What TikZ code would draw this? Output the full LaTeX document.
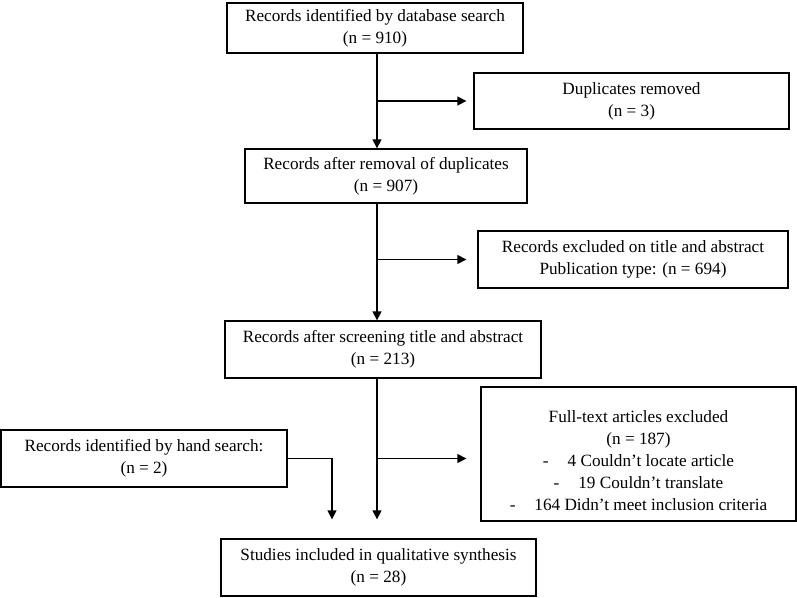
\documentclass[tikz,border=0pt]{standalone}
\usepackage{fontspec}
\setmainfont{Liberation Serif}
\usetikzlibrary{arrows.meta}
\begin{document}
\begin{tikzpicture}[x=1pt,y=-1pt,
  box/.style={draw, line width=1.3pt, align=center, inner sep=0pt,
    font=\fontsize{17.2}{22}\selectfont},
  conn/.style={line width=1.3pt, -{Triangle[length=9pt,width=9pt]}}]
\useasboundingbox (0,0) rectangle (797,597);
\coordinate (spine) at (377,0);
\coordinate (hx) at (332,0);
\node[box, minimum width=296pt, minimum height=50pt] (b1) at (375,28)
  {Records identified by database search\\(n = 910)};
\node[box, minimum width=315pt, minimum height=56pt] (dup) at (631.5,101)
  {Duplicates removed\\(n = 3)};
\node[box, minimum width=282pt, minimum height=54pt] (b2) at (386,176)
  {Records after removal of duplicates\\(n = 907)};
\node[box, minimum width=310pt, minimum height=57pt] (excl) at (633,259.5)
  {Records excluded on title and abstract\\Publication type: (n = 694)};
\node[box, minimum width=316pt, minimum height=57pt] (b3) at (383,349.5)
  {Records after screening title and abstract\\(n = 213)};
\node[box, minimum width=315pt, minimum height=134pt] (ft) at (638.5,454)
  {\rule{0pt}{25pt}Full-text articles excluded\\(n = 187)\\
   -\hspace{1.1em}4 Couldn’t locate article\\
   -\hspace{1.1em}19 Couldn’t translate\\
   -\hspace{1.1em}164 Didn’t meet inclusion criteria};
\node[box, minimum width=286pt, minimum height=57pt] (hand) at (144,458.5)
  {Records identified by hand search:\\(n = 2)};
\node[box, minimum width=315pt, minimum height=57pt] (final) at (378.5,567.5)
  {Studies included in qualitative synthesis\\(n = 28)};
\draw[conn] (b1.south -| spine) -- (b2.north -| spine);
\draw[conn, shorten >=7pt] (spine |- dup.west) -- (dup.west);
\draw[conn] (b2.south -| spine) -- (b3.north -| spine);
\draw[conn, shorten >=11pt] (spine |- excl.west) -- (excl.west);
\draw[conn, shorten >=19pt] (b3.south -| spine) -- (final.north -| spine);
\draw[conn, shorten >=14pt] (spine |- hand.east) -- (ft.west |- hand.east);
\draw[conn, shorten >=19pt] (hand.east) -| (hx |- final.north);
\end{tikzpicture}
\end{document}
